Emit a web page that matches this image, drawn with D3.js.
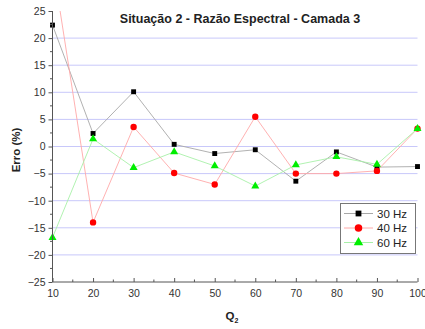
<!DOCTYPE html>
<html>
<head>
<meta charset="utf-8">
<script src="https://cdn.jsdelivr.net/npm/d3@7"></script>
<style>
  html, body { margin: 0; padding: 0; background: #fff; }
  svg { display: block; font-family: "Liberation Sans", Arial, sans-serif; }
</style>
</head>
<body>
<svg id="chart" width="425" height="329"></svg>
<script>
// Q2 values on the horizontal axis
const q2 = [10, 20, 30, 40, 50, 60, 70, 80, 90, 100];
// Error (%) for each frequency
const err30 = [22.4, 2.4, 10.1, 0.4, -1.3, -0.6, -6.4, -1.0, -3.8, -3.7];
const err40 = [34.0, -14.0, 3.6, -4.9, -7.0, 5.5, -5.0, -5.0, -4.5, 3.3];
const err60 = [-16.8, 1.4, -3.9, -1.0, -3.6, -7.3, -3.4, -1.9, -3.3, 3.3];
const seriesNames = ["30 Hz", "40 Hz", "60 Hz"];
const xTicks = [10, 20, 30, 40, 50, 60, 70, 80, 90, 100];
const yTicks = [-25, -20, -15, -10, -5, 0, 5, 10, 15, 20, 25];
const gridValues = [-20, -15, -10, -5, 0, 5, 10, 15, 20];

const svg = d3.select("#chart");
const plotLeft = 52.5, plotRight = 417.5, plotTop = 11, plotBottom = 282;

const x = d3.scaleLinear().domain([10, 100]).range([plotLeft, plotRight]);
const y = d3.scaleLinear().domain([-25, 25]).range([plotBottom, plotTop]);

const axisColor = "#555";
const textColor = "#333";

// horizontal grid
svg.append("g").selectAll("line").data(gridValues).join("line")
  .attr("x1", plotLeft).attr("x2", plotRight)
  .attr("y1", d => y(d)).attr("y2", d => y(d))
  .attr("stroke", "#c8c8fa").attr("stroke-width", 1);

// clip region for the plot
svg.append("defs").append("clipPath").attr("id", "plot-clip")
  .append("rect").attr("x", plotLeft).attr("y", plotTop)
  .attr("width", plotRight - plotLeft).attr("height", plotBottom - plotTop);

const series = [
  { name: seriesNames[0], values: err30, line: "#a8a8a8", fill: "#000000", shape: d3.symbolSquare, size: 24 },
  { name: seriesNames[1], values: err40, line: "#ffa8a8", fill: "#ff0000", shape: d3.symbolCircle, size: 32 },
  { name: seriesNames[2], values: err60, line: "#a8f0a8", fill: "#00ee00", shape: d3.symbolTriangle, size: 28 }
];

const lineGen = d3.line().x(d => x(d[0])).y(d => y(d[1]));
const plot = svg.append("g").attr("clip-path", "url(#plot-clip)");

series.forEach(s => {
  const pts = q2.map((q, i) => [q, s.values[i]]);
  plot.append("path").datum(pts)
    .attr("d", lineGen).attr("fill", "none")
    .attr("stroke", s.line).attr("stroke-width", 0.9);
});

// markers drawn on top of all lines
series.forEach(s => {
  const pts = q2.map((q, i) => [q, s.values[i]]).filter(p => p[1] <= 25 && p[1] >= -25);
  svg.append("g").selectAll("path").data(pts).join("path")
    .attr("transform", d => `translate(${x(d[0])},${y(d[1])})`)
    .attr("d", d3.symbol().type(s.shape).size(s.size))
    .attr("fill", s.fill);
});

// y axis (ticks outward to the left)
const yAxis = d3.axisLeft(y).tickValues(yTicks).tickSize(4).tickPadding(3);
const gy = svg.append("g").attr("transform", `translate(${plotLeft},0)`).call(yAxis);
gy.select(".domain").attr("stroke", axisColor).attr("d", `M0,${plotBottom}V${plotTop}`);
gy.selectAll(".tick line").attr("stroke", axisColor);
gy.selectAll(".tick text").attr("fill", textColor).attr("font-size", 10.5);
// y minor ticks
svg.append("g").selectAll("line").data(d3.range(-22.5, 25, 5)).join("line")
  .attr("x1", plotLeft - 2.5).attr("x2", plotLeft)
  .attr("y1", d => y(d)).attr("y2", d => y(d))
  .attr("stroke", axisColor);

// x axis (ticks pointing into the plot)
const xAxis = d3.axisBottom(x).tickValues(xTicks).tickSize(-4).tickPadding(8);
const gx = svg.append("g").attr("transform", `translate(0,${plotBottom})`).call(xAxis);
gx.select(".domain").attr("stroke", axisColor).attr("d", `M${plotLeft},0H${plotRight}`);
gx.selectAll(".tick line").attr("stroke", axisColor);
gx.selectAll(".tick text").attr("fill", textColor).attr("font-size", 10.5);
// x minor ticks
svg.append("g").selectAll("line").data(d3.range(15, 100, 10)).join("line")
  .attr("x1", d => x(d)).attr("x2", d => x(d))
  .attr("y1", plotBottom - 2.5).attr("y2", plotBottom)
  .attr("stroke", axisColor);

// title
svg.append("text").attr("x", 240).attr("y", 23).attr("text-anchor", "middle")
  .attr("font-weight", "bold").attr("font-size", 12.5).attr("fill", "#222")
  .text("Situação 2 - Razão Espectral - Camada 3");

// axis titles
svg.append("text").attr("transform", "translate(20,150) rotate(-90)")
  .attr("text-anchor", "middle").attr("font-weight", "bold").attr("font-size", 11.5).attr("fill", "#222")
  .text("Erro (%)");

const xt = svg.append("text").attr("x", 232).attr("y", 320).attr("text-anchor", "middle")
  .attr("font-weight", "bold").attr("font-size", 11.5).attr("fill", "#222");
xt.append("tspan").text("Q");
xt.append("tspan").attr("font-size", 7).attr("dy", 3).text("2");

// legend
const lg = svg.append("g");
lg.append("rect").attr("x", 340.5).attr("y", 203.5).attr("width", 75).attr("height", 50)
  .attr("fill", "#fff").attr("stroke", "#777").attr("stroke-width", 1);
series.forEach((s, i) => {
  const ly = 213.5 + i * 14.5;
  lg.append("line").attr("x1", 344).attr("x2", 373).attr("y1", ly).attr("y2", ly)
    .attr("stroke", s.line).attr("stroke-width", 1);
  lg.append("path").attr("transform", `translate(358.5,${ly})`)
    .attr("d", d3.symbol().type(s.shape).size(s.size * 1.4)).attr("fill", s.fill);
  lg.append("text").attr("x", 377).attr("y", ly + 4).attr("font-size", 11.5).attr("fill", "#222")
    .text(s.name);
});
</script>
</body>
</html>
